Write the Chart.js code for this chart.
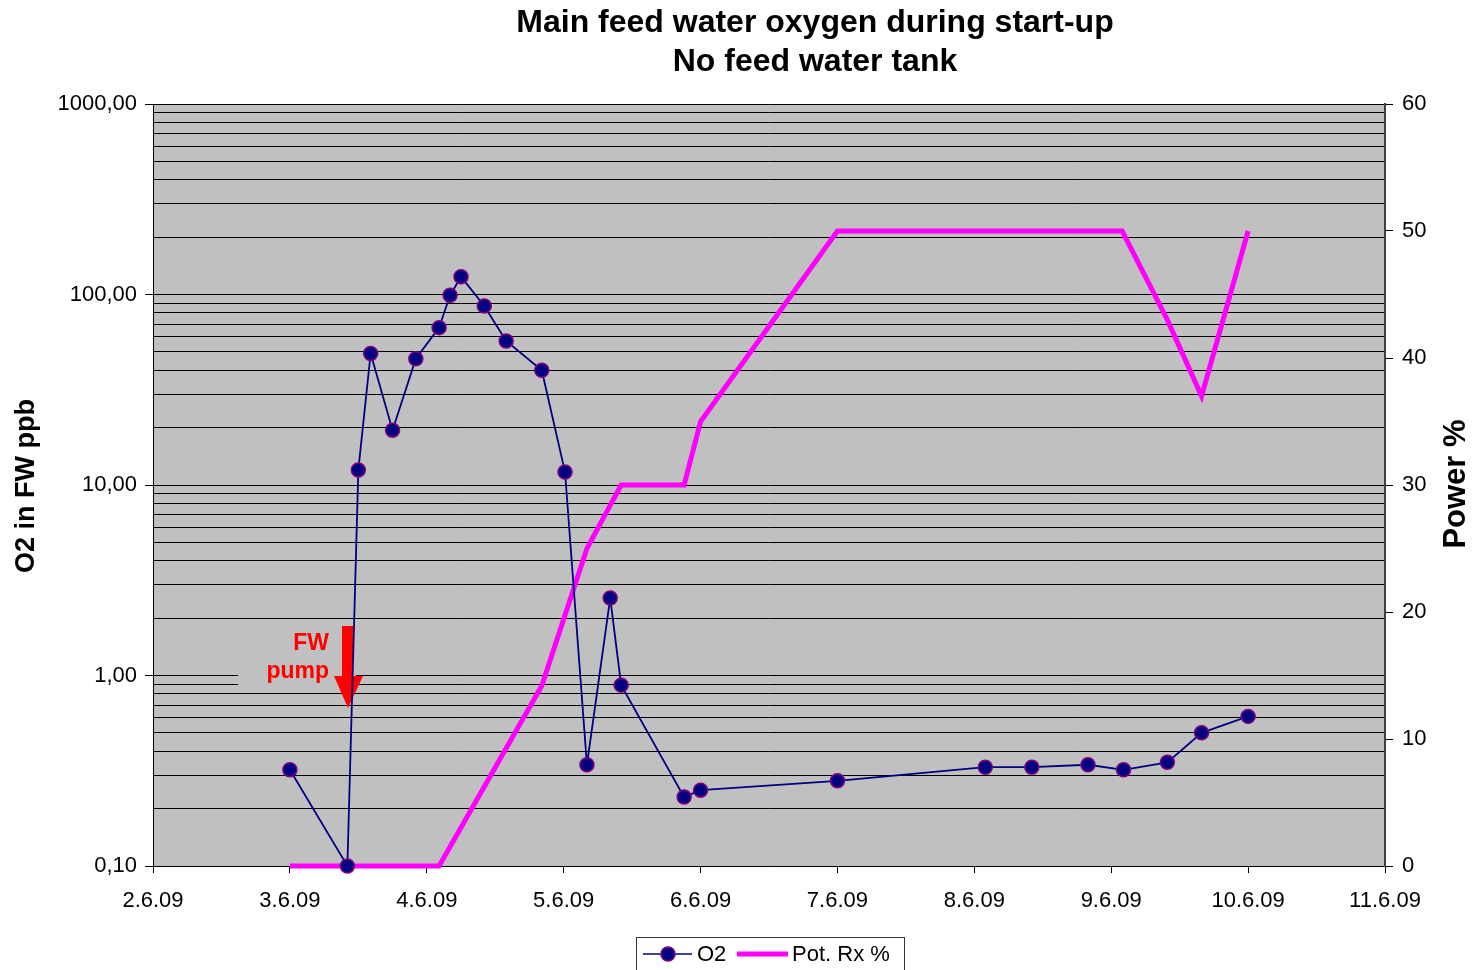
<!DOCTYPE html>
<html>
<head>
<meta charset="utf-8">
<script src="https://cdn.jsdelivr.net/npm/chart.js@4/dist/chart.umd.min.js"></script>
<style>
  body { margin: 0; background: #fff; }
</style>
</head>
<body>
<canvas id="chart" width="1479" height="970"></canvas>
<script>
// day of June 2009 (fractional) vs O2 in feed water, ppb
const o2Days = [3.00, 3.42, 3.50, 3.59, 3.75, 3.92, 4.09, 4.17, 4.25, 4.42, 4.58, 4.84, 5.01,
                5.17, 5.34, 5.42, 5.88, 6.00, 7.00, 8.08, 8.42, 8.83, 9.09, 9.41, 9.66, 10.00];
const o2Values = [0.32, 0.10, 12.0, 49.0, 19.4, 46.0, 67.0, 99.0, 124, 87, 57, 40, 11.7,
                  0.34, 2.55, 0.89, 0.23, 0.25, 0.28, 0.33, 0.33, 0.34, 0.32, 0.35, 0.50, 0.61];

// reactor power, %
const powerDays = [3.00, 4.09, 4.84, 5.17, 5.32, 5.42, 5.88, 6.00, 7.00, 9.08, 9.41, 9.66, 10.00];
const powerValues = [0, 0, 14.2, 25, 28, 30, 30, 35, 50, 50, 43, 37, 50];

const dayLabels = ['2.6.09', '3.6.09', '4.6.09', '5.6.09', '6.6.09', '7.6.09', '8.6.09', '9.6.09', '10.6.09', '11.6.09'];
const o2TickLabels = ['0,10', '1,00', '10,00', '100,00', '1000,00'];
const powerTickLabels = ['0', '10', '20', '30', '40', '50', '60'];

const FONT = "'Liberation Sans', Arial, sans-serif";

const isDecade = v => Math.abs(Math.log10(v) - Math.round(Math.log10(v))) < 1e-9;

// grey plot area, titles, annotation and legend
const decor = {
  id: 'decor',
  beforeDraw(chart) {
    const { ctx, chartArea: a } = chart;
    ctx.save();
    ctx.fillStyle = '#fff';
    ctx.fillRect(0, 0, chart.width, chart.height);
    ctx.fillStyle = '#c0c0c0';
    ctx.fillRect(a.left, a.top, a.right - a.left, a.bottom - a.top);
    ctx.restore();
  },
  beforeDatasetsDraw(chart) {
    const { ctx } = chart;
    ctx.save();
    // text box over the grid
    ctx.fillStyle = '#c0c0c0';
    ctx.fillRect(238, 626, 118, 64);
    ctx.fillStyle = '#ff0000';
    ctx.font = 'bold 23px ' + FONT;
    ctx.textAlign = 'right';
    ctx.textBaseline = 'middle';
    ctx.fillText('FW', 329, 644);
    ctx.fillText('pump', 329, 672);
    // arrow
    ctx.fillRect(342, 626, 11, 52);
    ctx.beginPath();
    ctx.moveTo(334, 676);
    ctx.lineTo(363, 676);
    ctx.lineTo(348, 708);
    ctx.closePath();
    ctx.fill();
    ctx.restore();
  },
  afterDraw(chart) {
    const { ctx } = chart;
    ctx.save();
    ctx.fillStyle = '#000';
    ctx.textAlign = 'center';
    ctx.textBaseline = 'middle';
    ctx.font = 'bold 32px ' + FONT;
    ctx.fillText('Main feed water oxygen during start-up', 815, 23);
    ctx.fillText('No feed water tank', 815, 62);

    ctx.font = 'bold 27px ' + FONT;
    ctx.translate(27, 486);
    ctx.rotate(-Math.PI / 2);
    ctx.fillText('O2 in FW ppb', 0, 0);
    ctx.setTransform(1, 0, 0, 1, 0, 0);
    ctx.font = 'bold 31px ' + FONT;
    ctx.translate(1456, 484);
    ctx.rotate(-Math.PI / 2);
    ctx.fillText('Power %', 0, 0);
    ctx.setTransform(1, 0, 0, 1, 0, 0);

    // legend
    const o2 = chart.data.datasets[0], pw = chart.data.datasets[1];
    ctx.fillStyle = '#fff';
    ctx.fillRect(636, 937, 268, 40);
    ctx.strokeStyle = '#333';
    ctx.lineWidth = 1;
    ctx.strokeRect(636.5, 937.5, 268, 40);
    ctx.strokeStyle = o2.borderColor;
    ctx.lineWidth = 1.5;
    ctx.beginPath();
    ctx.moveTo(643, 954);
    ctx.lineTo(692, 954);
    ctx.stroke();
    ctx.beginPath();
    ctx.arc(668, 954, 7, 0, Math.PI * 2);
    ctx.fillStyle = o2.pointBackgroundColor;
    ctx.fill();
    ctx.strokeStyle = o2.pointBorderColor;
    ctx.stroke();
    ctx.strokeStyle = pw.borderColor;
    ctx.lineWidth = 5;
    ctx.beginPath();
    ctx.moveTo(737, 954);
    ctx.lineTo(788, 954);
    ctx.stroke();
    ctx.fillStyle = '#000';
    ctx.font = '22px ' + FONT;
    ctx.textAlign = 'left';
    ctx.fillText(o2.label, 697, 955);
    ctx.fillText(pw.label, 792, 955);
    ctx.restore();
  }
};

const ctx = document.getElementById('chart').getContext('2d');
new Chart(ctx, {
  type: 'line',
  data: {
    datasets: [
      {
        label: 'O2',
        data: o2Days.map((d, i) => ({ x: d, y: o2Values[i] })),
        yAxisID: 'y',
        borderColor: '#000080',
        borderWidth: 1.8,
        pointRadius: 7,
        pointBorderWidth: 1.5,
        pointBackgroundColor: '#000080',
        pointBorderColor: '#800080',
        tension: 0,
        clip: false
      },
      {
        label: 'Pot. Rx %',
        data: powerDays.map((d, i) => ({ x: d, y: powerValues[i] })),
        yAxisID: 'y1',
        borderColor: '#ff00ff',
        borderWidth: 5,
        pointRadius: 0,
        tension: 0,
        clip: false
      }
    ]
  },
  options: {
    responsive: false,
    animation: false,
    layout: { padding: { top: 104, left: 0, right: 0, bottom: 0 } },
    plugins: { legend: { display: false }, title: { display: false }, tooltip: { enabled: false } },
    scales: {
      x: {
        type: 'linear', min: 2, max: 11,
        afterFit: s => { s.height = 104; },
        afterBuildTicks: s => { s.ticks = dayLabels.map((_, i) => ({ value: 2 + i })); },
        ticks: {
          autoSkip: false, maxRotation: 0, padding: 15, color: '#000',
          font: { family: FONT, size: 22 },
          callback: v => dayLabels[Math.round(v) - 2]
        },
        grid: { drawOnChartArea: false, tickLength: 7, tickColor: '#000' },
        border: { color: '#000', width: 1 }
      },
      y: {
        type: 'logarithmic', position: 'left', min: 0.1, max: 1000,
        afterFit: s => { s.width = 153; },
        afterBuildTicks: s => {
          const t = [];
          for (let e = -1; e < 3; e++) {
            for (let m = 1; m < 10; m++) t.push({ value: +(m * Math.pow(10, e)).toPrecision(3) });
          }
          t.push({ value: 1000 });
          s.ticks = t;
        },
        ticks: {
          autoSkip: false, padding: 8, color: '#000',
          font: { family: FONT, size: 22 },
          callback: v => isDecade(v) ? o2TickLabels[Math.round(Math.log10(v)) + 1] : ''
        },
        grid: {
          color: '#000', lineWidth: 1, tickLength: 8,
          tickColor: c => (c.tick && isDecade(c.tick.value)) ? '#000' : 'rgba(0,0,0,0)'
        },
        border: { color: '#000', width: 1 }
      },
      y1: {
        type: 'linear', position: 'right', min: 0, max: 60,
        afterFit: s => { s.width = 94; },
        ticks: {
          stepSize: 10, padding: 9, color: '#000',
          font: { family: FONT, size: 22 },
          callback: (v, i) => powerTickLabels[i]
        },
        grid: { drawOnChartArea: false, tickLength: 8, tickColor: '#000' },
        border: { color: '#404040', width: 2 }
      }
    }
  },
  plugins: [decor]
});
</script>
</body>
</html>
